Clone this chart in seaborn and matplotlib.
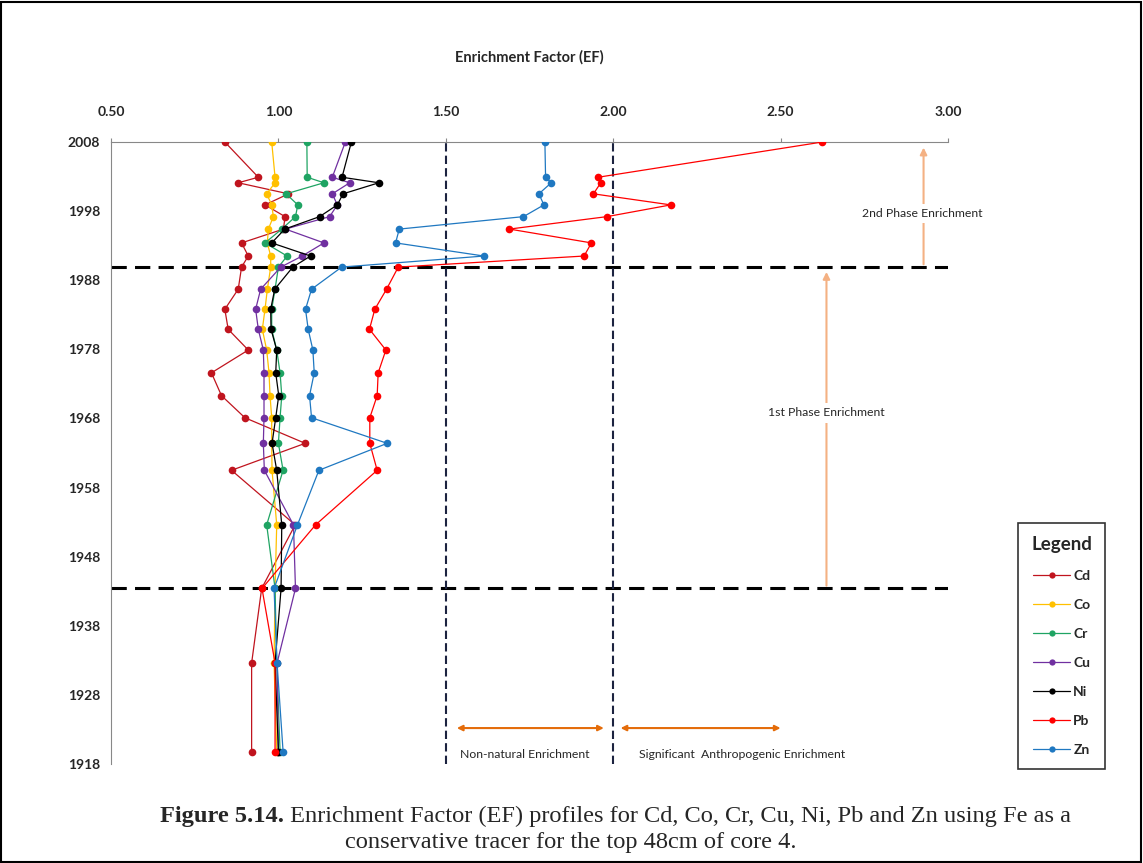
import numpy as np
import pandas as pd
import matplotlib
matplotlib.use('Agg')
import matplotlib.pyplot as plt
import seaborn as sns
from matplotlib.patches import Rectangle

# Sample ages (year) down the core, top to bottom
years = [2008, 2002.9, 2002.1, 2000.5, 1998.9, 1997.2, 1995.4, 1993.4, 1991.5, 1989.9,
         1986.7, 1983.8, 1980.9, 1977.9, 1974.6, 1971.3, 1968.1, 1964.4, 1960.5,
         1952.6, 1943.4, 1932.6, 1919.8]

# Enrichment factors
cd = [0.84, 0.94, 0.88, 1.03, 0.96, 1.02, 1.015, 0.89, 0.91, 0.89,
      0.88, 0.84, 0.85, 0.91, 0.80, 0.83, 0.90, 1.08, 0.86,
      1.05, 0.95, 0.92, 0.92]
co = [0.98, 0.99, 0.99, 0.965, 0.98, 0.985, 0.97, 0.967, 0.977, 0.977,
      0.967, 0.96, 0.952, 0.965, 0.972, 0.975, 0.98, 0.98, 0.981,
      0.995, 0.99, 0.987, 0.995]
cr = [1.085, 1.086, 1.136, 1.023, 1.058, 1.051, 1.01, 0.96, 1.026, 1.0,
      0.99, 0.98, 0.98, 0.995, 1.005, 1.01, 1.005, 1.0, 1.014,
      0.965, 0.99, 0.995, 1.005]
cu = [1.20, 1.161, 1.213, 1.161, 1.176, 1.153, 1.021, 1.136, 1.071, 1.007,
      0.947, 0.932, 0.94, 0.955, 0.957, 0.957, 0.957, 0.955, 0.958,
      1.045, 1.051, 0.996, 1.0]
ni = [1.218, 1.19, 1.30, 1.193, 1.176, 1.123, 1.019, 0.98, 1.096, 1.043,
      0.989, 0.977, 0.978, 0.995, 0.992, 1.001, 0.992, 0.981, 0.995,
      1.01, 1.008, 0.99, 1.0]
pb = [2.625, 1.955, 1.963, 1.941, 2.172, 1.981, 1.69, 1.935, 1.913, 1.358,
      1.323, 1.288, 1.272, 1.321, 1.298, 1.295, 1.273, 1.273, 1.295,
      1.111, 0.951, 0.99, 0.99]
zn = [1.796, 1.798, 1.815, 1.778, 1.793, 1.732, 1.361, 1.35, 1.614, 1.189,
      1.099, 1.081, 1.089, 1.103, 1.107, 1.093, 1.099, 1.325, 1.121,
      1.057, 0.987, 0.996, 1.014]

metals = ['Cd', 'Co', 'Cr', 'Cu', 'Ni', 'Pb', 'Zn']
colours = ['#C0141E', '#FFC000', '#1FA463', '#7030A0', '#000000', '#FF0000', '#1F78C1']

x_ticks = [0.50, 1.00, 1.50, 2.00, 2.50, 3.00]
y_ticks = [2008, 1998, 1988, 1978, 1968, 1958, 1948, 1938, 1928, 1918]

df = pd.DataFrame({
    'Year': years * len(metals),
    'EF': cd + co + cr + cu + ni + pb + zn,
    'Metal': np.repeat(metals, len(years)),
})

sns.set_style('white')
plt.rcParams['font.family'] = ['Lato', 'DejaVu Sans']

W, H = 1143, 863
fig = plt.figure(figsize=(W / 100, H / 100), dpi=100)
ax = fig.add_axes([111 / W, 1 - 764 / H, (948 - 111) / W, (764 - 142) / H])

sns.lineplot(data=df, x='EF', y='Year', hue='Metal', palette=dict(zip(metals, colours)),
             marker='o', markersize=5.5, markeredgewidth=0, linewidth=0.9,
             sort=False, estimator=None, ax=ax, zorder=3)

ax.set_xlim(0.5, 3.0)
ax.set_ylim(1918, 2008)
ax.xaxis.tick_top()
ax.xaxis.set_label_position('top')
ax.set_xticks(x_ticks)
ax.set_xticklabels([f'{t:.2f}' for t in x_ticks], fontweight='bold')
ax.set_yticks(y_ticks)
ax.set_yticklabels([str(t) for t in y_ticks], fontweight='bold')
ax.set_xlabel('Enrichment Factor (EF)', fontweight='bold', fontsize=10.5, labelpad=32)
ax.set_ylabel('')
ax.tick_params(axis='both', direction='out', length=3, width=0.8, color='#888888', labelsize=10)
ax.tick_params(axis='x', pad=14)
ax.tick_params(axis='y', pad=5)
for s in ['bottom', 'right']:
    ax.spines[s].set_visible(False)
for s in ['top', 'left']:
    ax.spines[s].set_color('#888888')
    ax.spines[s].set_linewidth(0.8)

# phase boundaries and EF thresholds
for yr in [1989.9, 1943.4]:
    ax.axhline(yr, color='black', lw=2.2, ls=(0, (5, 2.7)), zorder=2)
for ef in [1.5, 2.0]:
    ax.axvline(ef, color='#1c2340', lw=1.5, ls=(0, (4, 2)), zorder=2)

# phase arrows
light = '#F4B183'
ax.annotate('', xy=(2.927, 2007.2), xytext=(2.927, 1990.3),
            arrowprops=dict(arrowstyle='-|>', color=light, lw=1.5, mutation_scale=10,
                            shrinkA=0, shrinkB=0), zorder=4)
ax.text(2.924, 1997.7, '2nd Phase Enrichment', ha='center', va='center', fontsize=8.8,
        bbox=dict(facecolor='white', edgecolor='none', pad=3), zorder=5)
ax.annotate('', xy=(2.637, 1989.2), xytext=(2.637, 1943.8),
            arrowprops=dict(arrowstyle='-|>', color=light, lw=1.5, mutation_scale=10,
                            shrinkA=0, shrinkB=0), zorder=4)
ax.text(2.637, 1968.8, '1st Phase Enrichment', ha='center', va='center', fontsize=8.8,
        bbox=dict(facecolor='white', edgecolor='none', pad=3), zorder=5)

# threshold arrows
dark = '#E46C0A'
ax.annotate('', xy=(1.972, 1923.2), xytext=(1.533, 1923.2),
            arrowprops=dict(arrowstyle='<|-|>', color=dark, lw=1.5, mutation_scale=8,
                            shrinkA=0, shrinkB=0))
ax.annotate('', xy=(2.50, 1923.2), xytext=(2.022, 1923.2),
            arrowprops=dict(arrowstyle='<|-|>', color=dark, lw=1.5, mutation_scale=8,
                            shrinkA=0, shrinkB=0))
ax.text(1.736, 1919.4, 'Non-natural Enrichment', ha='center', va='center', fontsize=8.8)
ax.text(2.384, 1919.4, 'Significant  Anthropogenic Enrichment', ha='center', va='center', fontsize=8.8)

# legend box on the right
handles, labels = ax.get_legend_handles_labels()
ax.get_legend().remove()
leg = ax.legend(handles, labels, title='Legend', loc='upper left',
                bbox_to_anchor=(1018 / W, 1 - 523 / H), bbox_transform=fig.transFigure,
                borderaxespad=0, frameon=True, fancybox=False, edgecolor='black',
                prop={'weight': 'bold', 'size': 10},
                title_fontproperties={'weight': 'bold', 'size': 13.5},
                labelspacing=1.22, handlelength=2.7, handletextpad=0.2, borderpad=0.95)
leg.get_frame().set_linewidth(1.2)
for lh in leg.legend_handles:
    lh.set_markersize(4.5)

# caption
fig.canvas.draw()
renderer = fig.canvas.get_renderer()
cap_font = ['Liberation Serif', 'DejaVu Serif']
cap_size = 17.6
t1 = fig.text(160 / W, 1 - 822 / H, 'Figure 5.14.', family=cap_font, fontweight='bold',
              fontsize=cap_size, va='baseline')
bb = t1.get_window_extent(renderer)
fig.text(bb.x1 / W, 1 - 822 / H,
         ' Enrichment Factor (EF) profiles for Cd, Co, Cr, Cu, Ni, Pb and Zn using Fe as a',
         family=cap_font, fontsize=cap_size, va='baseline')
fig.text(571 / W, 1 - 848 / H, 'conservative tracer for the top 48cm of core 4.',
         family=cap_font, fontsize=cap_size, va='baseline', ha='center')

# outer frame
fig.patches.append(Rectangle((1 / W, 1 / H), 1 - 3 / W, 1 - 3 / H, transform=fig.transFigure,
                             fill=False, edgecolor='black', lw=1.5))

fig.savefig('out.png', dpi=100)
